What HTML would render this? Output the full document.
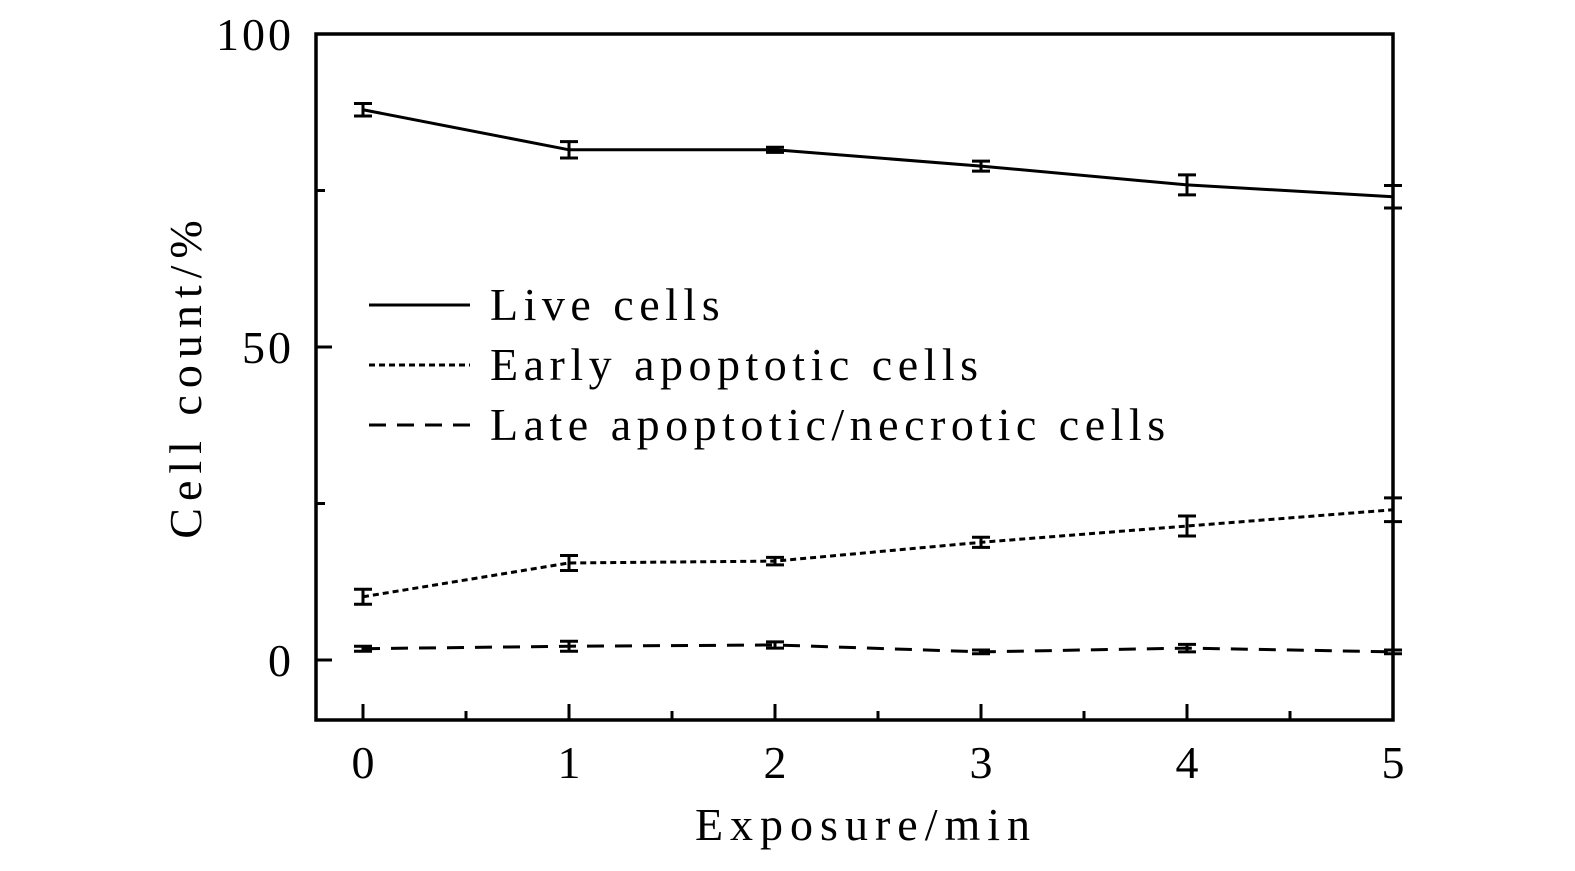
<!DOCTYPE html>
<html><head><meta charset="utf-8"><style>
html,body{margin:0;padding:0;background:#fff;}
svg text{font-family:"Liberation Serif",serif;fill:#000;}
</style></head><body>
<svg id="chart" width="1575" height="866" xmlns="http://www.w3.org/2000/svg">
<rect x="0" y="0" width="1575" height="866" fill="#fff"/>
<g id="plot"></g>
<text x="866" y="840" font-size="46" letter-spacing="7" text-anchor="middle">Exposure/min</text>
<text transform="translate(201,376) rotate(-90)" font-size="46" letter-spacing="7" text-anchor="middle">Cell count/%</text>
<g>
<line x1="369" y1="305" x2="470" y2="305" stroke="#000" stroke-width="3"/>
<text x="490" y="320" font-size="46" letter-spacing="5.5">Live cells</text>
<line x1="369" y1="365" x2="470" y2="365" stroke="#000" stroke-width="3" stroke-dasharray="6,4"/>
<text x="490" y="380" font-size="46" letter-spacing="5.5">Early apoptotic cells</text>
<line x1="369" y1="425" x2="470" y2="425" stroke="#000" stroke-width="3" stroke-dasharray="17,11"/>
<text x="490" y="440" font-size="46" letter-spacing="5.5">Late apoptotic/necrotic cells</text>
</g>
</svg>
<script>
const categories=[0,1,2,3,4,5];
const liveValues=[87.9,81.5,81.5,78.9,75.9,74.0];
const liveErrors=[1.0,1.3,0.4,0.8,1.6,1.8];
const earlyValues=[10.1,15.5,15.8,18.8,21.4,24.0];
const earlyErrors=[1.2,1.2,0.6,0.8,1.6,1.9];
const lateValues=[1.8,2.2,2.4,1.3,1.9,1.3];
const lateErrors=[0.4,0.8,0.5,0.3,0.6,0.3];
const yTickLabels=[0,50,100];
const yMinorTicks=[25,75];
const xMinorTicks=[0.5,1.5,2.5,3.5,4.5];

const NS="http://www.w3.org/2000/svg";
const g=document.getElementById('plot');
const X0=363,X1=1393,Y0=660,Y100=34;
const xs=v=>X0+(X1-X0)*v/5;
const ys=v=>Y0+(Y100-Y0)*v/100;
function el(t,a){const e=document.createElementNS(NS,t);for(const k in a)e.setAttribute(k,a[k]);g.appendChild(e);return e;}

const frame=el('rect',{x:316,y:34,width:1077,height:686,fill:'none',stroke:'#000','stroke-width':3.5});


yTickLabels.forEach(v=>{
  const t=el('line',{x1:316,x2:332,y1:ys(v),y2:ys(v),stroke:'#000','stroke-width':3});
  
  
  const l=el('text',{x:294,y:ys(v)+16,'font-size':46,'letter-spacing':3,'text-anchor':'end'});l.textContent=v;
  
  
});
yMinorTicks.forEach(v=>{
  const t=el('line',{x1:316,x2:325,y1:ys(v),y2:ys(v),stroke:'#000','stroke-width':3});
  
  
});
categories.forEach(c=>{
  const t=el('line',{x1:xs(c),x2:xs(c),y1:720,y2:704,stroke:'#000','stroke-width':3});
  
  
  const l=el('text',{x:xs(c),y:778,'font-size':46,'text-anchor':'middle'});l.textContent=c;
  
  
});
xMinorTicks.forEach(c=>{
  const t=el('line',{x1:xs(c),x2:xs(c),y1:720,y2:711,stroke:'#000','stroke-width':3});
  
  
});
function series(vals,errs,dash,name){
  const p=el('polyline',{points:vals.map((v,i)=>xs(categories[i])+','+ys(v)).join(' '),fill:'none',stroke:'#000','stroke-width':3,'stroke-dasharray':dash});
  
  
  vals.forEach((v,i)=>{
    const x=xs(categories[i]),a=ys(v+errs[i]),b=ys(v-errs[i]);
    const e=el('path',{d:`M${x},${a}V${b}M${x-9},${a}H${x+9}M${x-9},${b}H${x+9}`,stroke:'#000','stroke-width':3,fill:'none'});
    
    
  });
}
series(liveValues,liveErrors,'none','live');
series(earlyValues,earlyErrors,'6,4','early');
series(lateValues,lateErrors,'17,11','late');
</script>
</body></html>
